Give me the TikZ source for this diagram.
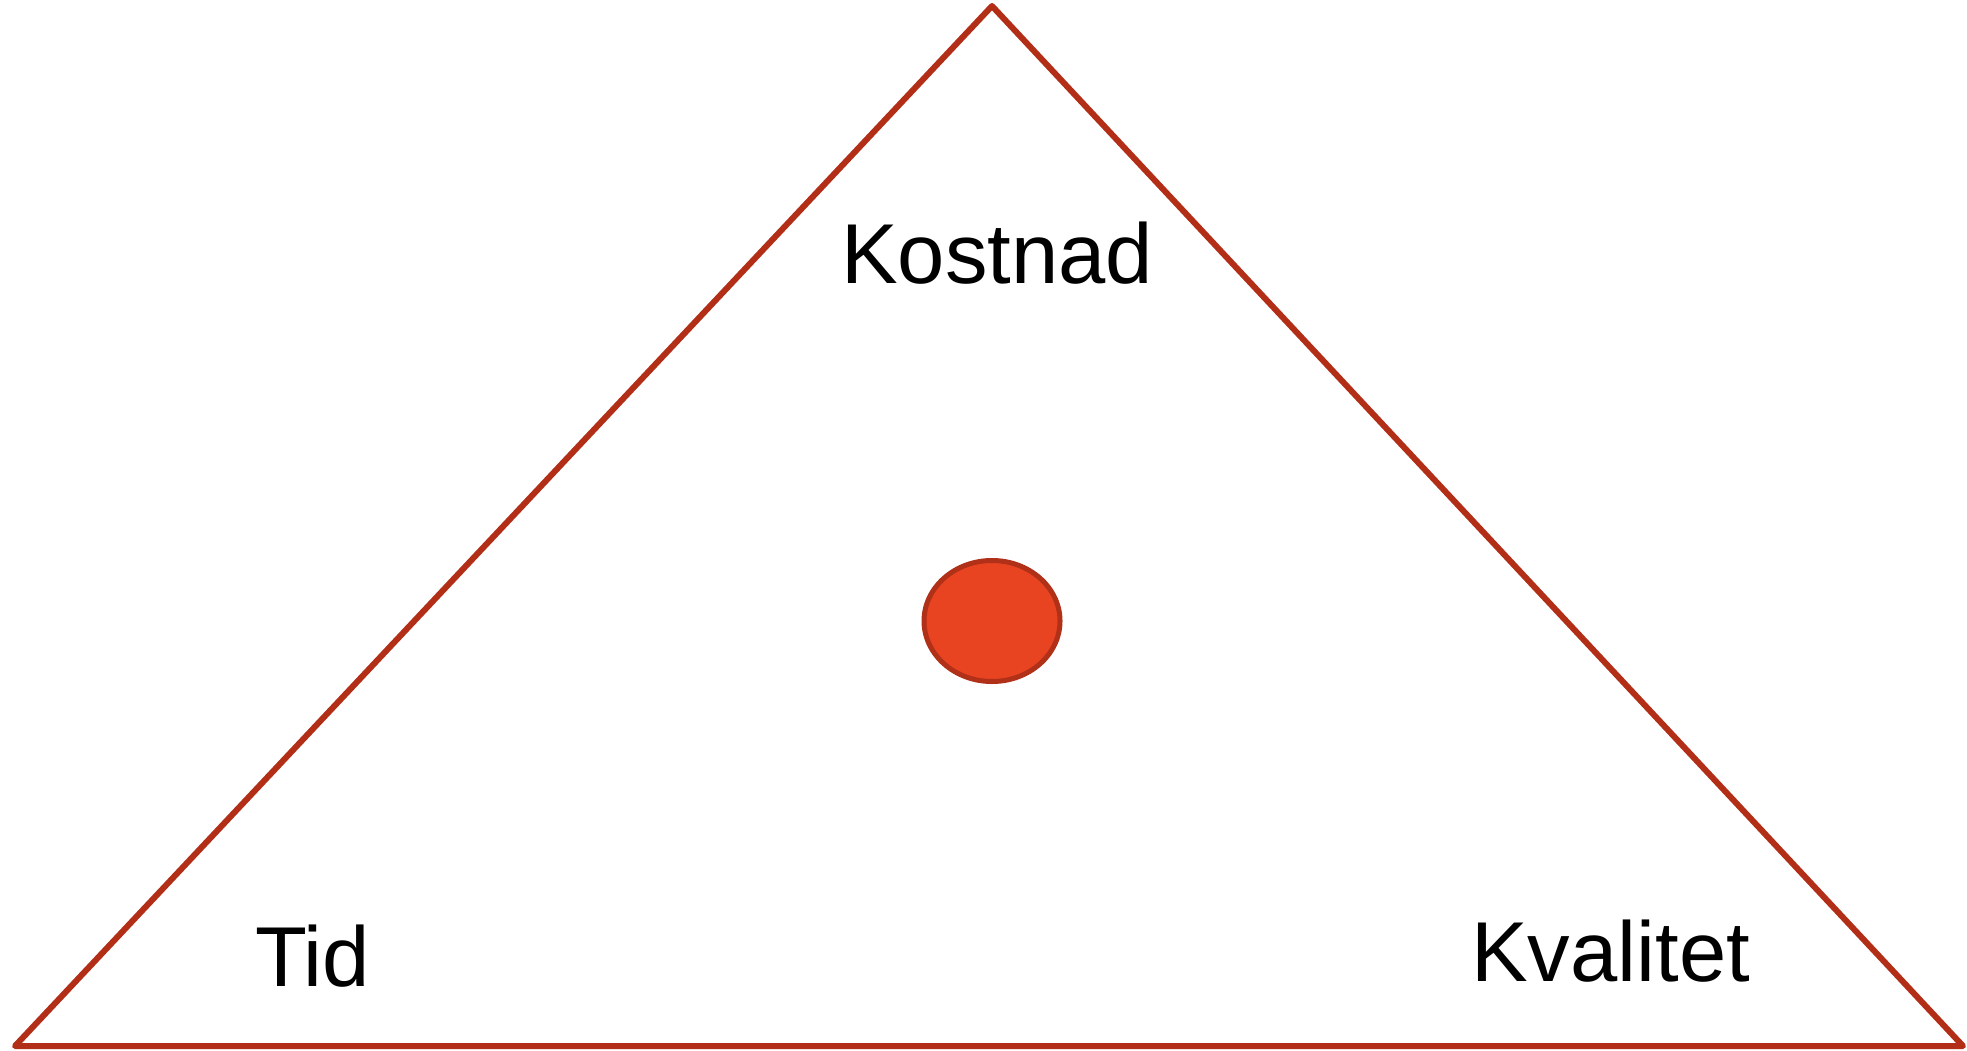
\documentclass[tikz,border=0pt]{standalone}
\usepackage{fontspec}
\setmainfont{Liberation Sans}
\usetikzlibrary{shapes.geometric}
\definecolor{tri}{RGB}{178,46,22}
\definecolor{dotfill}{RGB}{232,68,34}
\definecolor{dotline}{RGB}{176,48,24}
\tikzset{
  edge/.style={draw=tri, line width=6pt, line join=round, line cap=round},
  lbl/.style={anchor=base west, inner sep=0pt, font=\fontsize{85}{100}\selectfont},
  dot/.style={ellipse, draw=dotline, fill=dotfill, line width=5pt, minimum width=136pt, minimum height=121pt, inner sep=0pt}
}
\begin{document}
\begin{tikzpicture}[x=1pt,y=-1pt]
\useasboundingbox (0,0) rectangle (1967,1051);
\coordinate (apex) at (992,6);
\coordinate (bl) at (15,1046);
\coordinate (br) at (1963,1046);
\draw[edge] (apex) -- (br) -- (bl) -- cycle;
\node[dot] (center) at (992,621) {};
\node[lbl] (kostnad) at (841,283) {Kostnad};
\node[lbl] (tid) at (255,986) {Tid};
\node[lbl] (kvalitet) at (1471,981) {Kvalitet};
\end{tikzpicture}
\end{document}
